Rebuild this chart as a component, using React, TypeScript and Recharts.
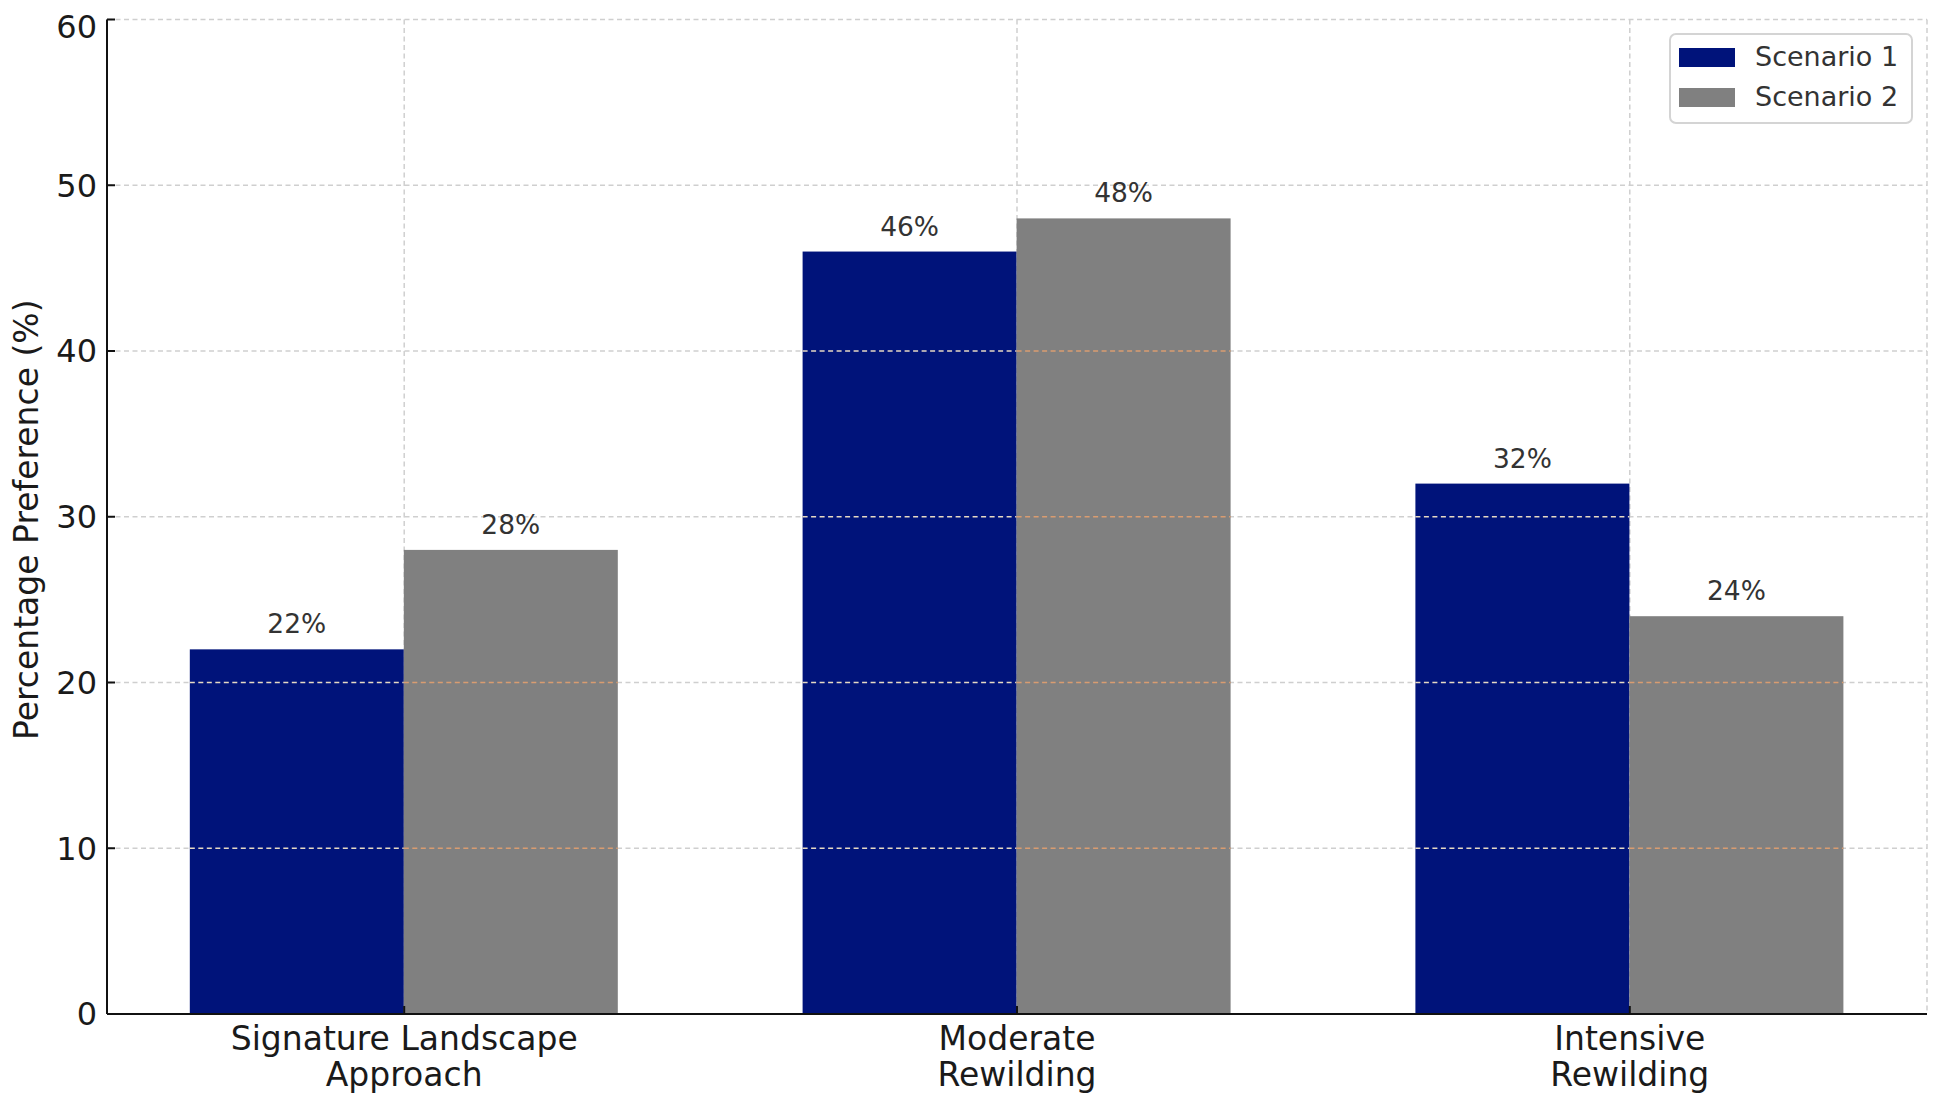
import React from 'react';
import { BarChart, Bar, XAxis, YAxis, CartesianGrid, Legend, LabelList, Label } from 'recharts';

const categories = ['Signature Landscape\nApproach', 'Moderate\nRewilding', 'Intensive\nRewilding'];
const scenario1 = [22, 46, 32];
const scenario2 = [28, 48, 24];
const seriesNames = ['Scenario 1', 'Scenario 2'];
const yTicks = [0, 10, 20, 30, 40, 50, 60];
const xTicks = [0, 1, 2];
const yLabel = 'Percentage Preference (%)';

const data = categories.map((c, i) => ({ idx: i, name: c, s1: scenario1[i], s2: scenario2[i] }));

const FONT = '"DejaVu Sans", sans-serif';
const BLUE = '#00137a';
const GRAY = '#808080';
const DASH = '5 3.5';

const makeShape = (key: 's1' | 's2', lineColor: string) => (props: any) => {
  const { x, y, width, height, fill, payload } = props;
  const v = payload[key];
  const lines = yTicks
    .filter((t) => t > 0 && t < v)
    .map((t) => {
      const ly = y + height - (t / v) * height;
      return (
        <line key={t} x1={x} x2={x + width} y1={ly} y2={ly} stroke={lineColor} strokeWidth={1.5} strokeDasharray={DASH} />
      );
    });
  return (
    <g>
      <rect x={x} y={y} width={width} height={height} fill={fill} />
      {lines}
    </g>
  );
};

const XTick = (props: any) => {
  const { x, y, payload } = props;
  const idx = Math.round(Number(payload.value));
  const lines = (categories[idx] || '').split('\n');
  return (
    <text x={x} y={y} textAnchor="middle" fontFamily={FONT} fontSize={33} fill="#1a1a1a">
      {lines.map((l, i) => (
        <tspan key={i} x={x} dy={36}>
          {l}
        </tspan>
      ))}
    </text>
  );
};

const renderLegend = (props: any) => {
  const payload = props.payload || [];
  return (
    <div
      style={{
        boxSizing: 'border-box',
        width: 244,
        height: 91,
        border: '2px solid #d4d4d4',
        borderRadius: 7,
        background: '#fff',
        position: 'relative',
        fontFamily: FONT,
      }}
    >
      {payload.map((p: any, i: number) => (
        <div
          key={i}
          style={{ position: 'absolute', left: 8, top: 12 + i * 40, height: 20, display: 'flex', alignItems: 'center' }}
        >
          <div style={{ width: 56, height: 19, background: p.color }} />
          <span style={{ marginLeft: 20, fontSize: 27, color: '#333', lineHeight: '20px', whiteSpace: 'nowrap' }}>
            {p.value}
          </span>
        </div>
      ))}
    </div>
  );
};

const YLabelContent = (props: any) => {
  const vb = props.viewBox || {};
  const cx = vb.x + 30;
  const cy = vb.y + vb.height / 2 + 3;
  return (
    <text
      x={cx}
      y={cy}
      transform={`rotate(-90 ${cx} ${cy})`}
      textAnchor="middle"
      fontFamily={FONT}
      fontSize={33}
      fill="#1a1a1a"
    >
      {yLabel}
    </text>
  );
};

export default function App() {
  return (
    <BarChart
      width={1921}
      height={1092}
      data={data}
      margin={{ top: 11.5, right: 2, bottom: 6, left: 0 }}
      barGap={0}
      style={{ fontFamily: FONT }}
    >
      <CartesianGrid stroke="#cfcfcf" strokeWidth={1.5} strokeDasharray={DASH} />
      <XAxis
        dataKey="idx"
        type="number"
        domain={[-0.485, 2.485]}
        ticks={xTicks}
        interval={0}
        height={80}
        tick={<XTick />}
        tickSize={-8}
        tickMargin={8}
        axisLine={{ stroke: '#111', strokeWidth: 2 }}
        tickLine={{ stroke: '#111', strokeWidth: 2 }}
      />
      <YAxis
        type="number"
        domain={[0, 60]}
        ticks={yTicks}
        width={99}
        tickSize={-8}
        tickMargin={18}
        tick={{ fontSize: 32, fill: '#1a1a1a', fontFamily: FONT }}
        axisLine={{ stroke: '#111', strokeWidth: 2 }}
        tickLine={{ stroke: '#111', strokeWidth: 2 }}
      >
        <Label content={<YLabelContent />} />
      </YAxis>
      <Legend
        layout="horizontal"
        verticalAlign="middle"
        align="center"
        wrapperStyle={{ position: 'absolute', top: 25, left: 1661, width: 244, height: 91 }}
        content={renderLegend}
      />
      <Bar dataKey="s1" name={seriesNames[0]} fill={BLUE} barSize={214} isAnimationActive={false} shape={makeShape('s1', '#e6d9c3')}>
        <LabelList dataKey="s1" position="top" offset={16} formatter={(v: any) => `${v}%`} fill="#333" fontSize={26.5} fontFamily={FONT} />
      </Bar>
      <Bar dataKey="s2" name={seriesNames[1]} fill={GRAY} barSize={214} isAnimationActive={false} shape={makeShape('s2', '#d99c70')}>
        <LabelList dataKey="s2" position="top" offset={16} formatter={(v: any) => `${v}%`} fill="#333" fontSize={26.5} fontFamily={FONT} />
      </Bar>
    </BarChart>
  );
}
